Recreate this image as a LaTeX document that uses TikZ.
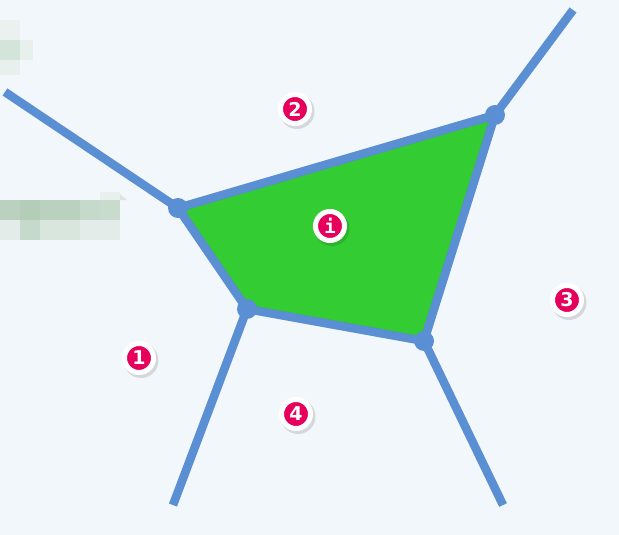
\documentclass[tikz,border=0pt]{standalone}
\usepackage{fontspec}
\setmainfont{DejaVu Sans}
\newfontfamily\monob{DejaVu Sans Mono}
\definecolor{bg}{RGB}{242,247,252}
\definecolor{edgeblue}{RGB}{91,143,212}
\definecolor{cellgreen}{RGB}{51,204,51}
\definecolor{badge}{RGB}{230,0,92}
\definecolor{pxA}{RGB}{234,241,239}
\definecolor{pxB}{RGB}{211,228,218}
\definecolor{pxC}{RGB}{232,240,238}
\definecolor{pxD}{RGB}{185,209,190}
\definecolor{pxE}{RGB}{179,205,184}
\definecolor{pxF}{RGB}{227,236,232}
\definecolor{pxG}{RGB}{197,218,202}
\definecolor{pxH}{RGB}{217,230,222}
\definecolor{pxI}{RGB}{200,219,205}
\begin{document}
\begin{tikzpicture}[x=1pt,y=-1pt,
  edge/.style={draw=edgeblue,line width=8.5pt},
  edgeshadow/.style={draw=black,opacity=0.12,line width=8.5pt},
  vdot/.style={circle,fill=edgeblue,minimum size=20pt,inner sep=0pt},
  badgenode/.style={circle,fill=badge,draw=white,line width=5pt,minimum size=29pt,inner sep=0pt,
     text=white,font=\bfseries\fontsize{19}{19}\selectfont},
  badgeshadow/.style={circle,fill=black,opacity=0.12,minimum size=35pt,inner sep=0pt}]
% background
\fill[bg] (0,0) rectangle (619,535);
\useasboundingbox (0,0) rectangle (619,535);
% pixelated blocks
\fill[pxA] (0,20) rectangle (20,40);
\fill[pxB] (0,40) rectangle (20,60);
\fill[pxC] (20,40) rectangle (33,60);
\fill[pxC] (0,60) rectangle (20,75);
\fill[pxD] (0,200) rectangle (20,220);
\fill[pxE] (20,200) rectangle (40,220);
\fill[pxD] (40,200) rectangle (80,220);
\fill[pxG] (80,200) rectangle (100,220);
\fill[pxI] (100,200) rectangle (120,220);
\fill[pxF] (0,220) rectangle (20,240);
\fill[pxG] (20,220) rectangle (40,240);
\fill[pxH] (40,220) rectangle (80,240);
\fill[pxF] (80,220) rectangle (120,240);
\fill[pxC] (100,192) rectangle (120,200);
\fill[pxH] (120,194) -- (127,200) -- (120,200) -- cycle;
% vertices and free ends
\coordinate (A) at (178,208);
\coordinate (B) at (495,115);
\coordinate (C) at (424,341);
\coordinate (D) at (247,309);
\coordinate (eA) at (5,92);
\coordinate (eB) at (573,10);
\coordinate (eD) at (173,505);
\coordinate (eC) at (503,505);
% green cell
\fill[cellgreen] (A) -- (B) -- (C) -- (D) -- cycle;
% shadows
\begin{scope}[shift={(1.5,2)}]
\draw[edgeshadow] (A) -- (eA);
\draw[edgeshadow] (B) -- (eB);
\draw[edgeshadow] (D) -- (eD);
\draw[edgeshadow] (C) -- (eC);
\draw[edgeshadow,line join=round] (A) -- (B) -- (C) -- (D) -- cycle;
\end{scope}
% edges
\draw[edge] (A) -- (eA);
\draw[edge] (B) -- (eB);
\draw[edge] (D) -- (eD);
\draw[edge] (C) -- (eC);
\draw[edge,line join=round] (A) -- (B) -- (C) -- (D) -- cycle;
% vertex dots
\node[vdot] (nA) at (A) {};
\node[vdot] (nB) at (B) {};
\node[vdot] (nC) at (C) {};
\node[vdot] (nD) at (D) {};
% badge shadows
\node[badgeshadow] (sh1) at (141,360.5) {};
\node[badgeshadow] (sh2) at (297,111.5) {};
\node[badgeshadow] (sh3) at (569,302.5) {};
\node[badgeshadow] (sh4) at (298,416.5) {};
\node[badgeshadow] (shi) at (332,228.5) {};
% badges
\node[badgenode] (b2) at (295,109) {2};
\node[badgenode] (bi) at (330,226) {\monob\bfseries i};
\node[badgenode] (b3) at (567,300) {3};
\node[badgenode] (b1) at (139,358) {1};
\node[badgenode] (b4) at (296,414) {4};
\end{tikzpicture}
\end{document}
